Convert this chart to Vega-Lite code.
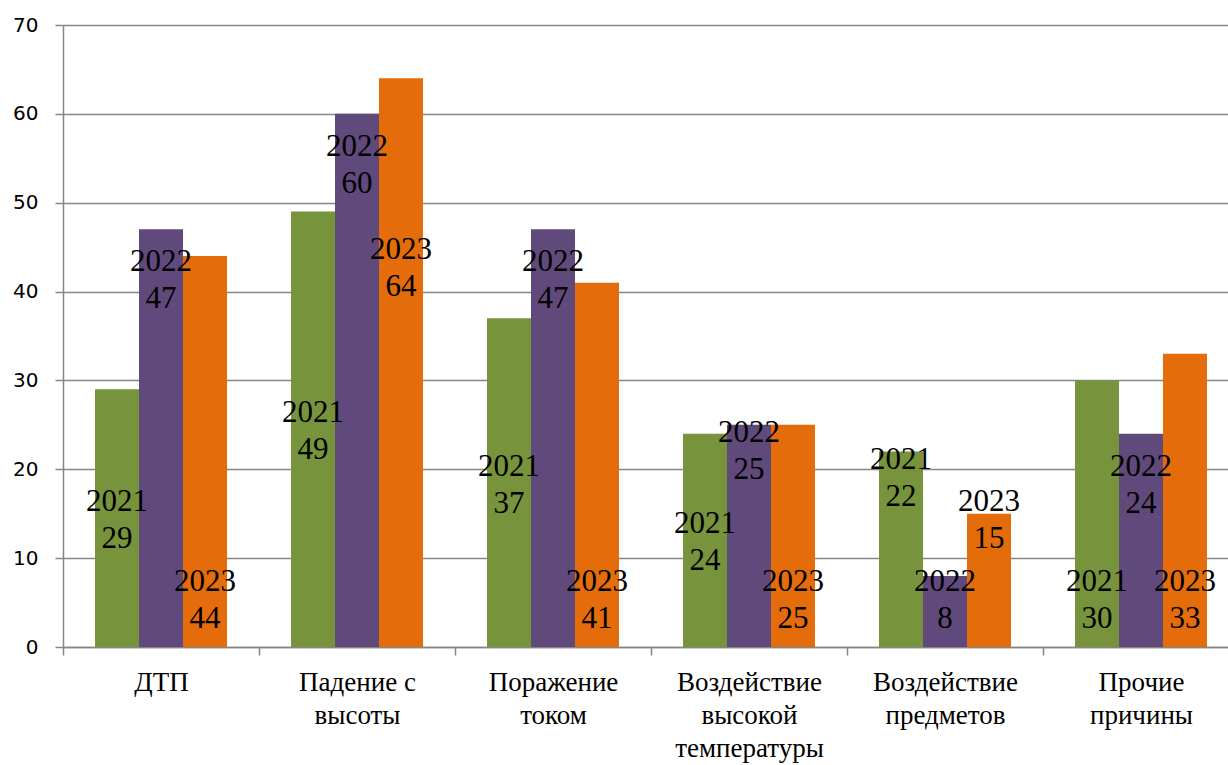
{
  "$schema": "https://vega.github.io/schema/vega-lite/v6.json",
  "width": 1176,
  "height": 622,
  "autosize": {"type": "none"},
  "padding": {"left": 63, "top": 25, "right": 0, "bottom": 118},
  "background": "white",
  "config": {"view": {"stroke": null}},
  "data": {
    "values": [
      {"cat": "ДТП", "year": "2021", "value": 29},
      {"cat": "ДТП", "year": "2022", "value": 47},
      {"cat": "ДТП", "year": "2023", "value": 44},
      {"cat": "Падение с высоты", "year": "2021", "value": 49},
      {"cat": "Падение с высоты", "year": "2022", "value": 60},
      {"cat": "Падение с высоты", "year": "2023", "value": 64},
      {"cat": "Поражение током", "year": "2021", "value": 37},
      {"cat": "Поражение током", "year": "2022", "value": 47},
      {"cat": "Поражение током", "year": "2023", "value": 41},
      {"cat": "Воздействие высокой температуры", "year": "2021", "value": 24},
      {"cat": "Воздействие высокой температуры", "year": "2022", "value": 25},
      {"cat": "Воздействие высокой температуры", "year": "2023", "value": 25},
      {"cat": "Воздействие предметов", "year": "2021", "value": 22},
      {"cat": "Воздействие предметов", "year": "2022", "value": 8},
      {"cat": "Воздействие предметов", "year": "2023", "value": 15},
      {"cat": "Прочие причины", "year": "2021", "value": 30},
      {"cat": "Прочие причины", "year": "2022", "value": 24},
      {"cat": "Прочие причины", "year": "2023", "value": 33}
    ]
  },
  "transform": [
    {"calculate": "datum.year + '\\n' + datum.value", "as": "label"},
    {"calculate": "datum.cat + '|' + datum.year", "as": "key"},
    {"calculate": "datum.value / 2", "as": "mid"}
  ],
  "encoding": {
    "x": {
      "field": "cat",
      "type": "nominal",
      "sort": ["ДТП", "Падение с высоты", "Поражение током", "Воздействие высокой температуры", "Воздействие предметов", "Прочие причины"],
      "scale": {"paddingInner": 0.3265, "paddingOuter": 0.1633},
      "axis": {
        "title": null,
        "grid": false,
        "bandPosition": 0,
        "tickOffset": -32,
        "labelOffset": 32,
        "domainColor": "#868686",
        "domainWidth": 1.5,
        "tickColor": "#868686",
        "tickWidth": 1.5,
        "tickSize": 8,
        "labelAngle": 0,
        "labelFont": "Liberation Serif",
        "labelFontSize": 27,
        "labelColor": "#000000",
        "labelLineHeight": 33,
        "labelBaseline": "alphabetic",
        "labelPadding": 35,
        "labelLimit": 400,
        "labelOverlap": false,
        "labelBound": false,
        "labelExpr": "datum.value == 'Падение с высоты' ? ['Падение с', 'высоты'] : datum.value == 'Поражение током' ? ['Поражение', 'током'] : datum.value == 'Воздействие высокой температуры' ? ['Воздействие', 'высокой', 'температуры'] : datum.value == 'Воздействие предметов' ? ['Воздействие', 'предметов'] : datum.value == 'Прочие причины' ? ['Прочие', 'причины'] : datum.label"
      }
    },
    "xOffset": {"field": "year", "type": "nominal", "scale": {"paddingInner": 0, "paddingOuter": 0}}
  },
  "layer": [
    {
      "mark": {"type": "bar"},
      "encoding": {
        "y": {
          "field": "value",
          "type": "quantitative",
          "scale": {"domain": [0, 70], "nice": false},
          "axis": {
            "title": null,
            "values": [0, 10, 20, 30, 40, 50, 60, 70],
            "grid": true,
            "gridColor": "#868686",
            "gridWidth": 1.5,
            "domainColor": "#868686",
            "domainWidth": 1.5,
            "tickColor": "#868686",
            "tickWidth": 1.5,
            "tickSize": 8,
            "labelFont": "DejaVu Sans",
            "labelFontSize": 20,
            "labelColor": "#000000",
            "labelPadding": 17
          }
        },
        "color": {
          "field": "year",
          "type": "nominal",
          "scale": {"domain": ["2021", "2022", "2023"], "range": ["#77933C", "#604A7B", "#E46C0A"]},
          "legend": null
        }
      }
    },
    {
      "transform": [{"filter": {"field": "key", "oneOf": ["ДТП|2022", "Падение с высоты|2022", "Поражение током|2022", "Прочие причины|2022"]}}],
      "mark": {"type": "text", "font": "Liberation Serif", "fontSize": 31, "lineHeight": 37, "lineBreak": "\n", "baseline": "alphabetic", "align": "center", "color": "#000000", "dy": 42},
      "encoding": {
        "y": {"field": "value", "type": "quantitative"},
        "text": {"field": "label"}
      }
    },
    {
      "transform": [{"filter": {"field": "key", "oneOf": ["Воздействие высокой температуры|2022", "Воздействие предметов|2021"]}}],
      "mark": {"type": "text", "font": "Liberation Serif", "fontSize": 31, "lineHeight": 37, "lineBreak": "\n", "baseline": "alphabetic", "align": "center", "color": "#000000", "dy": 17},
      "encoding": {
        "y": {"field": "value", "type": "quantitative"},
        "text": {"field": "label"}
      }
    },
    {
      "transform": [{"filter": {"field": "key", "oneOf": ["Воздействие предметов|2023"]}}],
      "mark": {"type": "text", "font": "Liberation Serif", "fontSize": 31, "lineHeight": 37, "lineBreak": "\n", "baseline": "alphabetic", "align": "center", "color": "#000000", "dy": -3},
      "encoding": {
        "y": {"field": "value", "type": "quantitative"},
        "text": {"field": "label"}
      }
    },
    {
      "transform": [{"filter": {"field": "key", "oneOf": ["Падение с высоты|2023"]}}],
      "mark": {"type": "text", "font": "Liberation Serif", "fontSize": 31, "lineHeight": 37, "lineBreak": "\n", "baseline": "alphabetic", "align": "center", "color": "#000000", "dy": 181},
      "encoding": {
        "y": {"field": "value", "type": "quantitative"},
        "text": {"field": "label"}
      }
    },
    {
      "transform": [{"filter": {"field": "key", "oneOf": ["ДТП|2021", "Падение с высоты|2021", "Поражение током|2021", "Воздействие высокой температуры|2021"]}}],
      "mark": {"type": "text", "font": "Liberation Serif", "fontSize": 31, "lineHeight": 37, "lineBreak": "\n", "baseline": "alphabetic", "align": "center", "color": "#000000", "dy": -7},
      "encoding": {
        "y": {"field": "mid", "type": "quantitative"},
        "text": {"field": "label"}
      }
    },
    {
      "transform": [{"filter": {"field": "key", "oneOf": ["ДТП|2023", "Поражение током|2023", "Воздействие высокой температуры|2023", "Воздействие предметов|2022", "Прочие причины|2021", "Прочие причины|2023"]}}],
      "mark": {"type": "text", "font": "Liberation Serif", "fontSize": 31, "lineHeight": 37, "lineBreak": "\n", "baseline": "alphabetic", "align": "center", "color": "#000000", "dy": -56},
      "encoding": {
        "y": {"datum": 0, "type": "quantitative"},
        "text": {"field": "label"}
      }
    }
  ]
}
